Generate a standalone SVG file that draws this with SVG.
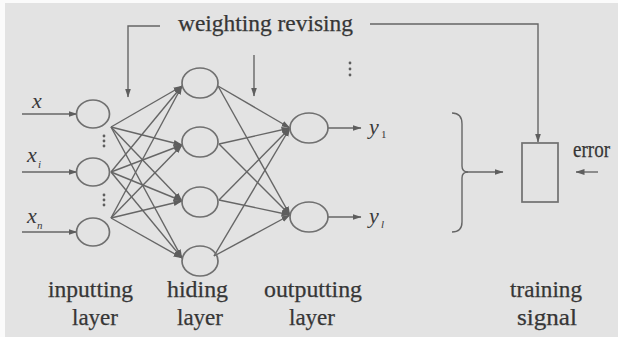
<svg xmlns="http://www.w3.org/2000/svg" width="618" height="337" viewBox="0 0 618 337">
<defs>
<marker id="ah" markerWidth="9" markerHeight="7" refX="8.5" refY="3.5" orient="auto" markerUnits="userSpaceOnUse">
<path d="M0,0.5 L9,3.5 L0,6.5 Z" fill="#5e5e5e"/>
</marker>
<style>
.bg{fill:#e3e3e3}
.n{fill:none;stroke:#707070;stroke-width:1.7}
.c{fill:none;stroke:#666;stroke-width:1.4}
.a{marker-end:url(#ah)}
.t{font-family:"Liberation Serif","Times New Roman",serif;fill:#363636;font-size:23px;stroke:#363636;stroke-width:0.25}
.v{font-family:"Liberation Serif","Times New Roman",serif;fill:#3a3a3a;font-style:italic;font-size:22px}
.s{font-family:"Liberation Serif","Times New Roman",serif;fill:#3a3a3a;font-size:11px}
.si{font-family:"Liberation Serif","Times New Roman",serif;fill:#3a3a3a;font-size:11px;font-style:italic}
.d{fill:#5e5e5e}
</style>
</defs>
<rect width="618" height="337" fill="#fbfbfb"/>
<rect class="bg" x="5" y="3" width="613" height="334"/>

<g id="connectors">
<line class="c a" x1="22" y1="114" x2="77" y2="114"/>
<line class="c a" x1="22" y1="172" x2="77" y2="172"/>
<line class="c a" x1="22" y1="232" x2="77" y2="232"/>
<g class="c a">
<line x1="111" y1="127" x2="182" y2="86"/>
<line x1="111" y1="127" x2="182" y2="145"/>
<line x1="111" y1="127" x2="182" y2="201"/>
<line x1="111" y1="127" x2="182" y2="258"/>
<line x1="111" y1="172" x2="182" y2="86"/>
<line x1="111" y1="172" x2="182" y2="145"/>
<line x1="111" y1="172" x2="182" y2="201"/>
<line x1="111" y1="172" x2="182" y2="258"/>
<line x1="111" y1="218" x2="182" y2="86"/>
<line x1="111" y1="218" x2="182" y2="145"/>
<line x1="111" y1="218" x2="182" y2="201"/>
<line x1="111" y1="218" x2="182" y2="258"/>
</g>
<g class="c a">
<line x1="218" y1="86" x2="290" y2="128"/>
<line x1="218" y1="86" x2="290" y2="215"/>
<line x1="219" y1="144" x2="290" y2="128"/>
<line x1="219" y1="144" x2="290" y2="215"/>
<line x1="219" y1="200" x2="290" y2="128"/>
<line x1="219" y1="200" x2="290" y2="215"/>
<line x1="214" y1="256" x2="290" y2="128"/>
<line x1="214" y1="256" x2="290" y2="215"/>
</g>
<line class="c a" x1="328" y1="128" x2="361" y2="128"/>
<line class="c a" x1="328" y1="217" x2="361" y2="217"/>
<polyline class="c a" points="160,26 128,26 128,97"/>
<line class="c a" x1="254" y1="55" x2="254" y2="96"/>
<polyline class="c a" points="370,24 538,24 538,142"/>
<path class="c" d="M452,113 Q462,113 462,124 L462,166 Q462,172 468,172 M468,172 Q462,172 462,178 L462,222 Q462,232 452,232"/>
<line class="c a" x1="466" y1="172" x2="503" y2="172"/>
<line class="c a" x1="598" y1="172" x2="576" y2="172"/>
</g>

<g id="input1"><ellipse class="n" cx="93" cy="114" rx="16.5" ry="14"/></g>
<g id="input2"><ellipse class="n" cx="93" cy="172" rx="16.5" ry="14"/></g>
<g id="input3"><ellipse class="n" cx="93" cy="232" rx="16.5" ry="14"/></g>
<g id="hidden1"><ellipse class="n" cx="200" cy="83" rx="18" ry="15"/></g>
<g id="hidden2"><ellipse class="n" cx="200" cy="142" rx="18" ry="15"/></g>
<g id="hidden3"><ellipse class="n" cx="200" cy="202" rx="18" ry="15"/></g>
<g id="hidden4"><ellipse class="n" cx="200" cy="261" rx="18" ry="15"/></g>
<g id="output1"><ellipse class="n" cx="309" cy="128" rx="19" ry="15"/></g>
<g id="output2"><ellipse class="n" cx="309" cy="217" rx="19" ry="15"/></g>
<g id="training-box"><rect class="n" x="522" y="143" width="36" height="59"/></g>

<g id="dots">
<circle class="d" cx="104" cy="136" r="1.4"/><circle class="d" cx="104" cy="141" r="1.4"/><circle class="d" cx="104" cy="146" r="1.4"/>
<circle class="d" cx="104" cy="195" r="1.4"/><circle class="d" cx="104" cy="200" r="1.4"/><circle class="d" cx="104" cy="205" r="1.4"/>
<circle class="d" cx="350" cy="63" r="1.4"/><circle class="d" cx="350" cy="69" r="1.4"/><circle class="d" cx="350" cy="75" r="1.4"/>
</g>

<g id="labels">
<text class="t" x="178" y="31" textLength="175" lengthAdjust="spacingAndGlyphs">weighting revising</text>
<text class="v" x="32" y="108">x</text>
<text class="v" x="27" y="162">x</text><text class="si" x="38" y="168">i</text>
<text class="v" x="27" y="223">x</text><text class="si" x="37" y="229">n</text>
<text class="v" x="369" y="134">y</text><text class="s" x="381" y="138">1</text>
<text class="v" x="369" y="223">y</text><text class="si" x="381" y="228">l</text>
<text class="t" x="573" y="157" textLength="37" lengthAdjust="spacingAndGlyphs">error</text>
<text class="t" x="48" y="297" textLength="85" lengthAdjust="spacingAndGlyphs">inputting</text>
<text class="t" x="72" y="325" textLength="46" lengthAdjust="spacingAndGlyphs">layer</text>
<text class="t" x="167" y="297" textLength="61" lengthAdjust="spacingAndGlyphs">hiding</text>
<text class="t" x="177" y="325" textLength="46" lengthAdjust="spacingAndGlyphs">layer</text>
<text class="t" x="264" y="297" textLength="98" lengthAdjust="spacingAndGlyphs">outputting</text>
<text class="t" x="289" y="325" textLength="46" lengthAdjust="spacingAndGlyphs">layer</text>
<text class="t" x="510" y="297" textLength="72" lengthAdjust="spacingAndGlyphs">training</text>
<text class="t" x="517" y="325" textLength="60" lengthAdjust="spacingAndGlyphs">signal</text>
</g>
</svg>
